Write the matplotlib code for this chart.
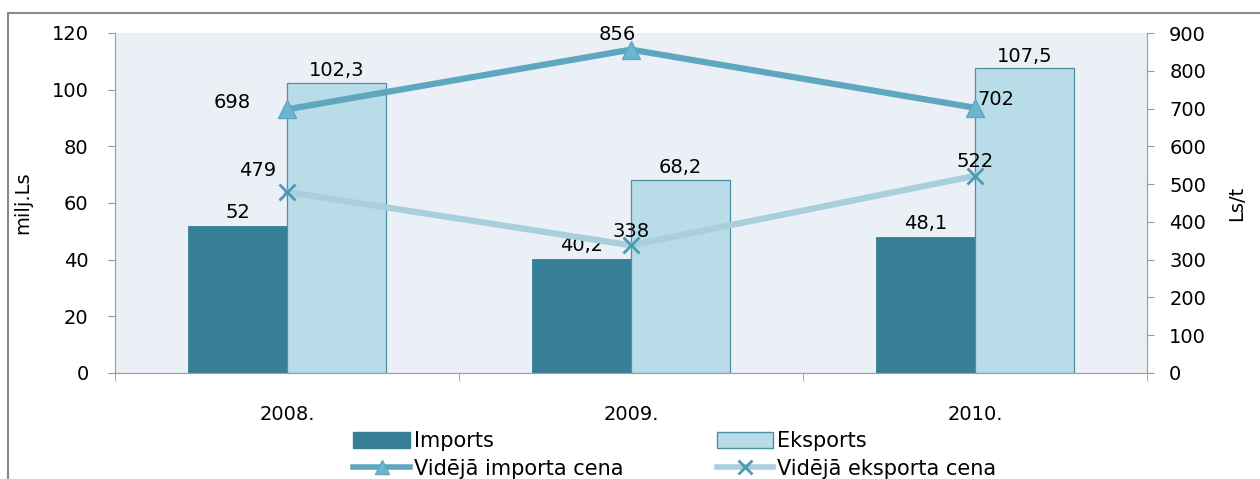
"""Imports / exports value and average price, 2008-2010."""
import matplotlib

matplotlib.use("Agg")
import matplotlib.pyplot as plt
from matplotlib.lines import Line2D
from matplotlib.patches import Patch, Rectangle
import numpy as np

years = ["2008.", "2009.", "2010."]
imports = [52, 40.2, 48.1]
exports = [102.3, 68.2, 107.5]
import_price = [698, 856, 702]
export_price = [479, 338, 522]

C_IMP = "#367f96"
C_EXP = "#b8dde8"
C_EXP_EDGE = "#4e8fa3"
C_IMP_LINE = "#5ea7bf"
C_EXP_LINE = "#a9cfdc"
C_X = "#4d9ab5"

# offsets of the price labels from their markers, in pixels (x, y up)
imp_off = [(-55, 7), (-14, 15), (21, 8)]
exp_off = [(-29, 22), (0, 14), (0, 14)]


def fmt(v):
    return f"{v:g}".replace(".", ",")


plt.rcParams["font.family"] = "DejaVu Sans"
plt.rcParams["font.size"] = 14

fig = plt.figure(figsize=(12.6, 4.79), dpi=100)
fig.patches.append(Rectangle((8 / 1260, -0.05), 1.2, 1 - 13 / 479 + 0.05,
                             transform=fig.transFigure, fill=False,
                             edgecolor="#8a8a8a", linewidth=1.5))

ax = fig.add_axes([115 / 1260, 1 - 373 / 479, 1032 / 1260, 340 / 479])
ax.set_facecolor("#eaf0f6")
x = np.arange(len(years))
w = 0.288

ax.bar(x - w / 2, imports, w, color=C_IMP, edgecolor=C_IMP, linewidth=0.6, zorder=2)
ax.bar(x + w / 2, exports, w, color=C_EXP, edgecolor=C_EXP_EDGE, linewidth=0.9, zorder=2)
for xi, v in zip(x, imports):
    ax.annotate(fmt(v), (xi - w / 2, v), xytext=(0, 3), textcoords="offset points",
                ha="center", va="bottom")
for xi, v in zip(x, exports):
    ax.annotate(fmt(v), (xi + w / 2, v), xytext=(0, 2), textcoords="offset points",
                ha="center", va="bottom")

ax.set_xlim(-0.5, 2.5)
ax.set_ylim(0, 120)
ax.set_yticks(range(0, 121, 20))
ax.set_xticks(x)
ax.set_xticklabels(years)
ax.set_xticks([-0.5, 0.5, 1.5, 2.5], minor=True)
ax.tick_params(axis="x", which="major", length=0, pad=23)
ax.tick_params(axis="x", which="minor", length=6, color="#999999")
ax.tick_params(axis="y", length=5, color="#999999", pad=14)
ax.set_ylabel("milj.Ls")
ax.yaxis.set_label_coords(-0.080, 0.5)
ax.spines["top"].set_visible(False)
for s in ["left", "bottom", "right"]:
    ax.spines[s].set_color("#a0a0a0")

ax2 = ax.twinx()
ax2.set_ylim(0, 900)
ax2.set_yticks(range(0, 901, 100))
ax2.tick_params(axis="y", length=5, color="#999999", pad=11)
ax2.spines["top"].set_visible(False)
for s in ["left", "bottom", "right"]:
    ax2.spines[s].set_color("#a0a0a0")
ax2.set_ylabel("Ls/t", va="center")
ax2.yaxis.set_label_coords(1.087, 0.5)

ax2.plot(x, import_price, color=C_IMP_LINE, linewidth=4.5, marker="^",
         markersize=13, markerfacecolor="#6db6cf", markeredgecolor=C_IMP_LINE, zorder=3)
ax2.plot(x, export_price, color=C_EXP_LINE, linewidth=4.5, marker="x",
         markersize=12, markeredgecolor=C_X, markeredgewidth=2, zorder=3)

for xi, v, (dx, dy) in zip(x, import_price, imp_off):
    ax2.annotate(str(v), (xi, v), xytext=(dx * 0.72, dy * 0.72), textcoords="offset points",
                 ha="center", va="center")
for xi, v, (dx, dy) in zip(x, export_price, exp_off):
    ax2.annotate(str(v), (xi, v), xytext=(dx * 0.72, dy * 0.72), textcoords="offset points",
                 ha="center", va="center")

handles = [
    Patch(facecolor=C_IMP, edgecolor=C_IMP),
    Line2D([], [], color=C_IMP_LINE, linewidth=4, marker="^", markersize=10,
           markerfacecolor="#6db6cf", markeredgecolor=C_IMP_LINE),
    Patch(facecolor=C_EXP, edgecolor=C_EXP_EDGE),
    Line2D([], [], color=C_EXP_LINE, linewidth=4, marker="x", markersize=10,
           markeredgecolor=C_X, markeredgewidth=2),
]
labels = ["Imports", "Vidējā importa cena", "Eksports", "Vidējā eksporta cena"]
fig.legend(handles, labels, loc="center", bbox_to_anchor=(675 / 1260, 1 - 455 / 479),
           ncol=2, frameon=False, handlelength=2.7, handleheight=0.8,
           handletextpad=0.2, columnspacing=4.5, labelspacing=0.35, fontsize=15,
           borderpad=0, borderaxespad=0)

fig.savefig("out.png", dpi=100)
